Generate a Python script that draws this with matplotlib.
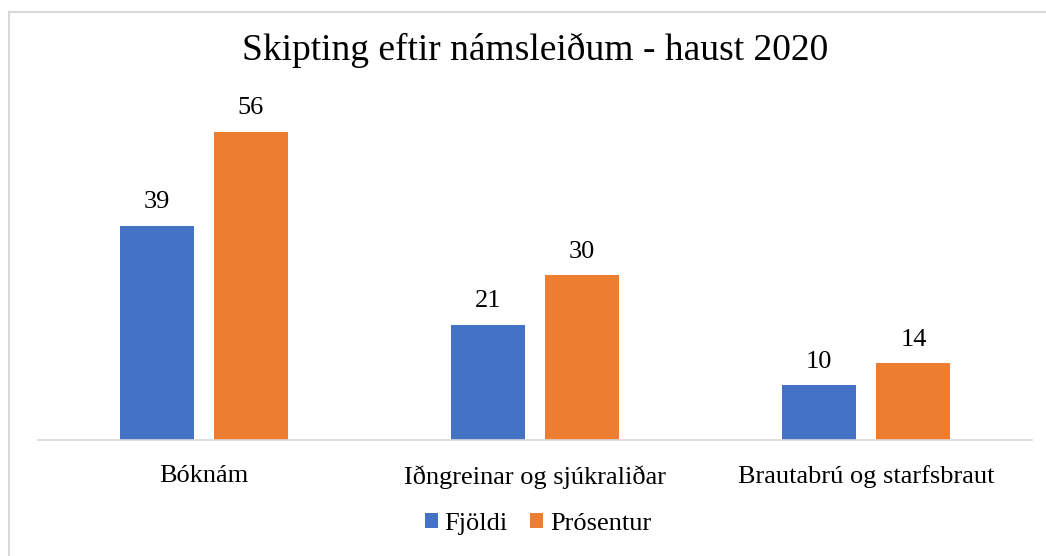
import numpy as np
import matplotlib.pyplot as plt
from matplotlib.patches import Rectangle

categories = ['Bóknám', 'Iðngreinar og sjúkraliðar', 'Brautabrú og starfsbraut']
fjoldi = [39, 21, 10]
prosentur = [56, 30, 14]

plt.rcParams['font.family'] = ['Liberation Serif', 'DejaVu Serif']

W, H = 1046, 556
fig = plt.figure(figsize=(W / 100, H / 100), dpi=100)
ax = fig.add_axes([38 / W, (H - 440) / H, (1032 - 38) / W, (440 - 110) / H])

x = np.arange(len(categories))
bw = 0.224
off = 0.142
b1 = ax.bar(x - off, fjoldi, bw, color='#4472C4', label='Fjöldi')
b2 = ax.bar(x + off, prosentur, bw, color='#ED7D31', label='Prósentur')
for bars in (b1, b2):
    ax.bar_label(bars, padding=9, fontsize=19, clip_on=False)

ax.set_xlim(-0.5, 2.5)
ax.set_ylim(0, 60)
ax.set_xticks(x)
ax.set_xticklabels(categories, fontsize=19)
ax.tick_params(axis='x', length=0, pad=18)
ax.set_yticks([])
for s in ['top', 'right', 'left']:
    ax.spines[s].set_visible(False)
ax.spines['bottom'].set_color('#D9D9D9')
ax.spines['bottom'].set_linewidth(1.2)

fig.text(535 / W, 1 - 50 / H, 'Skipting eftir námsleiðum - haust 2020',
         ha='center', va='center', fontsize=27)

fig.legend(loc='center', bbox_to_anchor=(538 / W, 1 - 524 / H), ncol=2,
           frameon=False, fontsize=19, handlelength=0.5, handleheight=0.5,
           handletextpad=0.25, columnspacing=0.85)

# chart area border (only top and left edges fall inside the image)
fig.patches.append(Rectangle((8.5 / W, -0.1), 1.2, (H - 11.5) / H + 0.1,
                             transform=fig.transFigure, fill=False,
                             edgecolor='#D9D9D9', linewidth=1.5))

fig.savefig('out.png', dpi=100)
